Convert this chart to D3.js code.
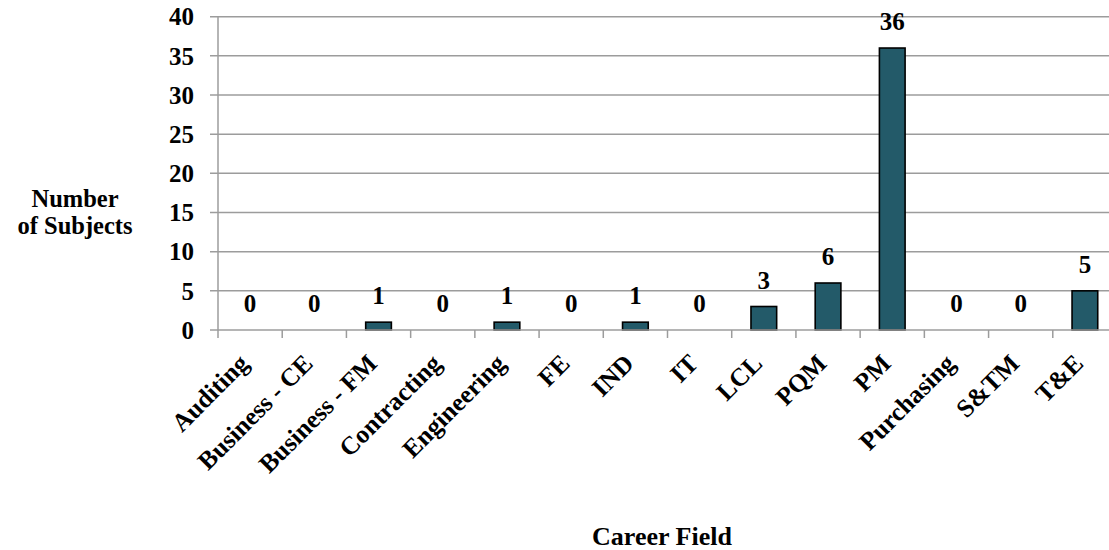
<!DOCTYPE html>
<html>
<head>
<meta charset="utf-8">
<script src="https://cdn.jsdelivr.net/npm/d3@7/dist/d3.min.js"></script>
<style>
  html, body { margin: 0; padding: 0; background: #fff; }
  svg { display: block; }
  text { font-family: "Liberation Serif", "Times New Roman", serif; font-weight: bold; fill: #000; }
</style>
</head>
<body>
<svg id="chart" width="1109" height="550"></svg>
<script>
// Career fields and the number of subjects in each
const categories = ["Auditing", "Business - CE", "Business - FM", "Contracting", "Engineering",
  "FE", "IND", "IT", "LCL", "PQM", "PM", "Purchasing", "S&TM", "T&E"];
const subjects = [0, 0, 1, 0, 1, 0, 1, 0, 3, 6, 36, 0, 0, 5];
const yTicks = [0, 5, 10, 15, 20, 25, 30, 35, 40];
const yTitle = ["Number", "of Subjects"];
const xTitle = "Career Field";

const svg = d3.select("#chart");
const plotLeft = 218, plotRight = 1117, plotTop = 16.7, plotBottom = 330;
const gridColor = "#9c9c9c";

const x = d3.scaleBand().domain(categories).range([plotLeft, plotRight])
  .paddingInner(0.6).paddingOuter(0.3);
const y = d3.scaleLinear().domain([0, 40]).range([plotBottom, plotTop]);
const step = x.step();

// horizontal gridlines with short ticks to the left of the axis
svg.append("g").selectAll("line").data(yTicks.filter(d => d > 0)).join("line")
  .attr("x1", plotLeft - 8).attr("x2", 1109)
  .attr("y1", d => y(d)).attr("y2", d => y(d))
  .attr("stroke", gridColor).attr("stroke-width", 1.5);

// y axis line
svg.append("line").attr("x1", plotLeft).attr("x2", plotLeft).attr("y1", plotTop).attr("y2", plotBottom)
  .attr("stroke", gridColor).attr("stroke-width", 1.5);

// y tick labels
svg.append("g").selectAll("text").data(yTicks).join("text")
  .attr("x", 194).attr("y", d => y(d)).attr("dy", "0.35em")
  .attr("text-anchor", "end").style("font-size", "25px")
  .text(d => d);

// bars
svg.append("g").selectAll("rect").data(subjects).join("rect")
  .attr("x", (d, i) => x(categories[i]))
  .attr("width", x.bandwidth())
  .attr("y", d => y(d))
  .attr("height", d => y(0) - y(d))
  .attr("fill", "#235a69")
  .attr("stroke", "#000").attr("stroke-width", 1.6)
  .style("display", d => d > 0 ? null : "none");

// x axis line with tick marks between categories
svg.append("line").attr("x1", plotLeft - 8).attr("x2", 1109).attr("y1", plotBottom).attr("y2", plotBottom)
  .attr("stroke", gridColor).attr("stroke-width", 1.5);
svg.append("g").selectAll("line").data(d3.range(categories.length + 1)).join("line")
  .attr("x1", i => plotLeft + i * step).attr("x2", i => plotLeft + i * step)
  .attr("y1", plotBottom).attr("y2", plotBottom + 8)
  .attr("stroke", gridColor).attr("stroke-width", 1.5);

// value labels above bars
svg.append("g").selectAll("text").data(subjects).join("text")
  .attr("x", (d, i) => x(categories[i]) + x.bandwidth() / 2)
  .attr("y", d => y(d) - 18)
  .attr("text-anchor", "middle").style("font-size", "25px")
  .text(d => d);

// rotated category labels
svg.append("g").selectAll("text").data(categories).join("text")
  .attr("transform", d => `translate(${x(d) + x.bandwidth() / 2},${plotBottom + 35}) rotate(-45)`)
  .attr("text-anchor", "end").style("font-size", "25.5px")
  .text(d => d);

// axis titles
svg.append("text").attr("text-anchor", "middle").style("font-size", "24.5px")
  .selectAll("tspan").data(yTitle).join("tspan")
  .attr("x", 75).attr("y", (d, i) => 207 + i * 26.5).text(d => d);
svg.append("text").attr("x", 662).attr("y", 545).attr("text-anchor", "middle")
  .style("font-size", "26px").text(xTitle);
</script>
</body>
</html>
